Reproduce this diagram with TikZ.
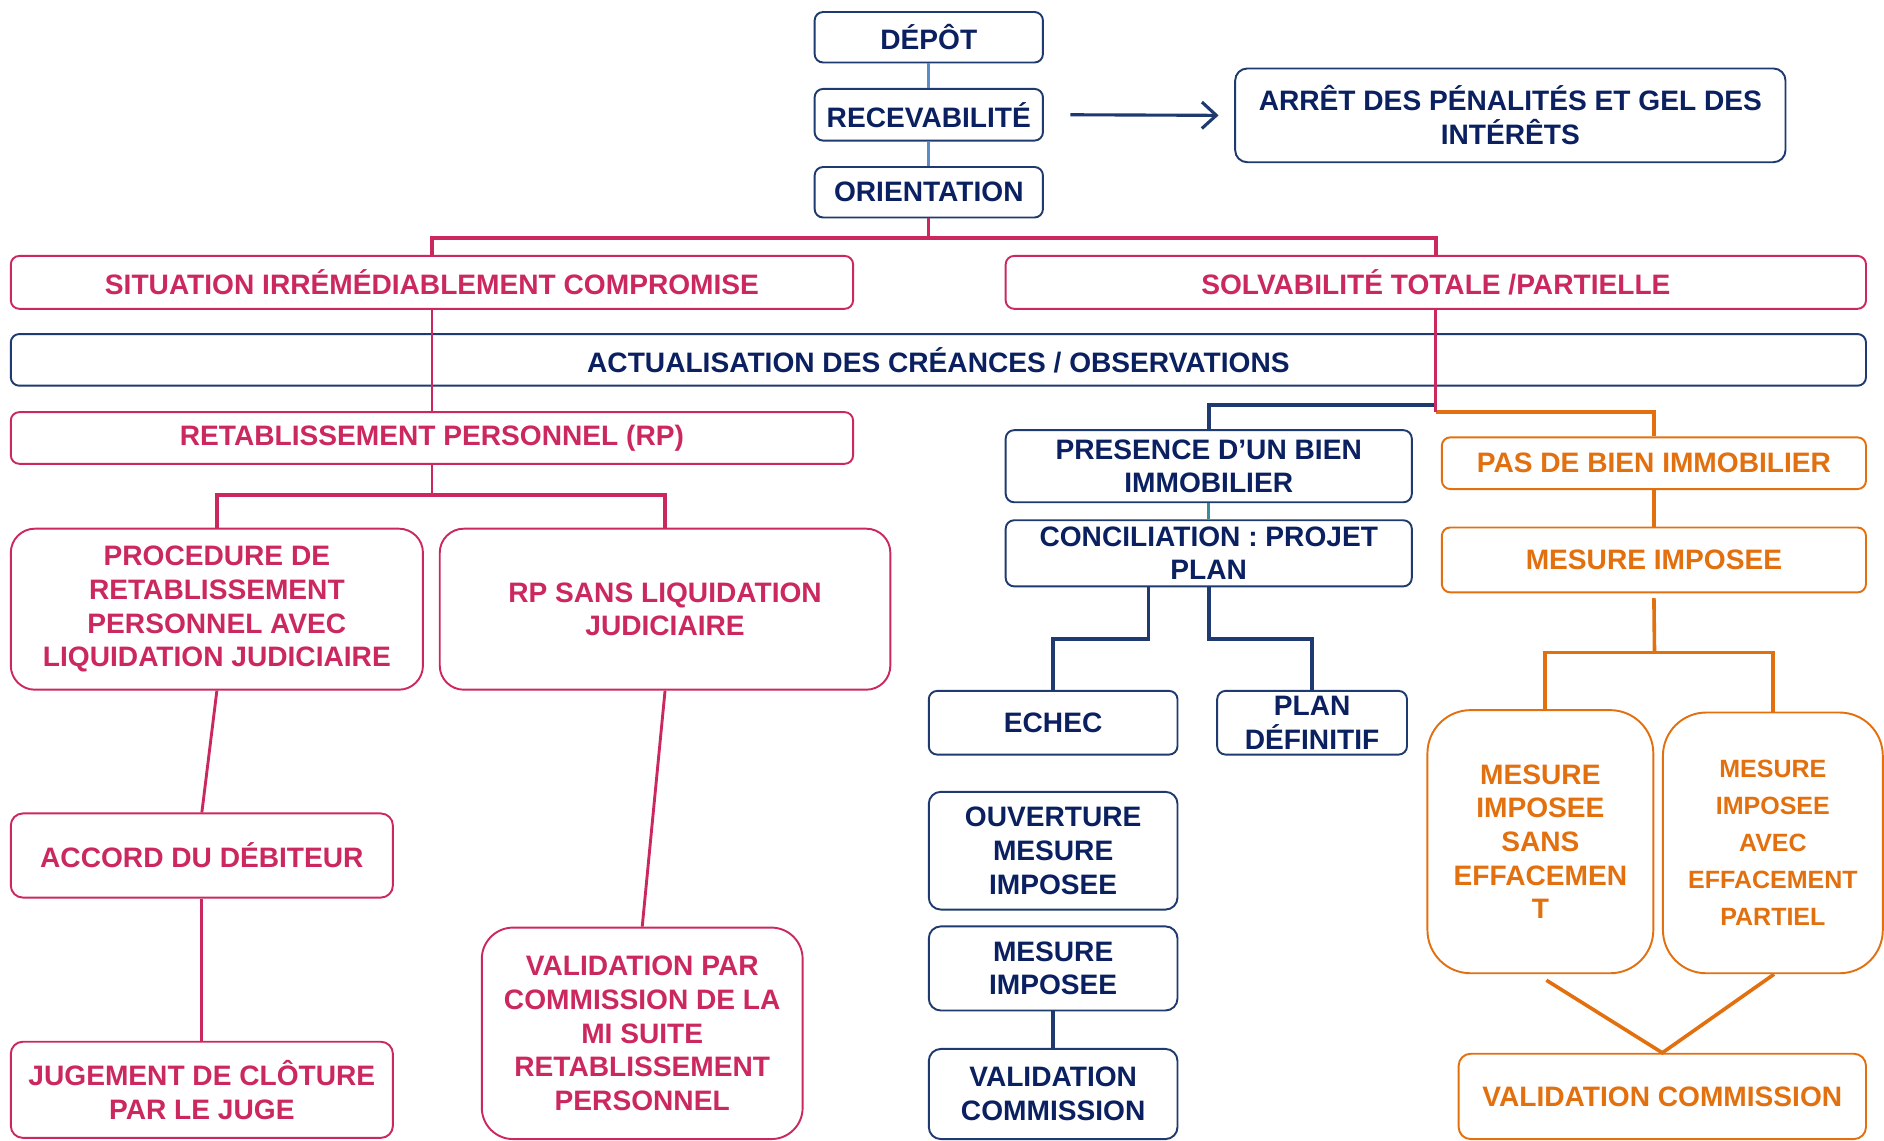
\documentclass[tikz,border=0pt]{standalone}
\usepackage{fontspec}
\setmainfont{Liberation Sans}
\usetikzlibrary{arrows.meta,calc}
\definecolor{navy}{HTML}{1F3A6E}
\definecolor{navytext}{HTML}{0A2060}
\definecolor{crim}{HTML}{CC2860}
\definecolor{orng}{HTML}{E2700F}
\definecolor{lblue}{HTML}{5A8CC8}
\definecolor{tealc}{HTML}{3A8C9C}
% \mkbox{style}{name}{x1}{y1}{x2}{y2}{text}
\newcommand\mkbox[7]{%
  \node[#1, minimum width={(#5-#3)*0.5pt}, minimum height={(#6-#4)*0.5pt}]
    (#2) at ({(#3+#5)/2},{(#4+#6)/2}) {#7};}
\begin{document}
\begin{tikzpicture}[x=0.5pt,y=-0.5pt,
  base/.style={draw, fill=white, line width=0.8pt, inner sep=0pt, align=center,
    font=\bfseries\fontsize{11.7}{14}\selectfont},
  nbox/.style={base, draw=navy, text=navytext},
  cbox/.style={base, draw=crim, text=crim},
  obox/.style={base, draw=orng, text=orng},
  ra/.style={rounded corners=3.5pt},
  rb/.style={rounded corners=5pt},
  rc/.style={rounded corners=10pt},
  rd/.style={rounded corners=13pt},
  re/.style={rounded corners=18pt},
  lbl/.style={draw=lblue, line width=1.1pt},
  cl/.style={draw=crim, line width=1.2pt},
  nl/.style={draw=navy, line width=1.5pt},
  ol/.style={draw=orng, line width=1.5pt},
  tl/.style={draw=tealc, line width=1.1pt},
  arr/.style={draw=navy, line width=1.3pt, -{Straight Barb[length=6pt,width=11pt,line width=1.3pt]}}
]
\useasboundingbox (0,0) rectangle (1568,949.6);
\clip (0,0) rectangle (1568,949.6);

% top column
\mkbox{nbox, ra}{depot}{678}{10}{868}{52}{DÉPÔT}
\mkbox{nbox, ra}{recev}{678}{74}{868}{117}{RECEVABILITÉ}
\mkbox{nbox, ra}{orient}{678}{139}{868}{181}{ORIENTATION}
\mkbox{nbox, rb}{arret}{1028}{57}{1486}{135}{ARRÊT DES PÉNALITÉS ET GEL DES\\INTÉRÊTS}

% second level
\mkbox{cbox, ra}{sit}{9}{213}{710}{257}{SITUATION IRRÉMÉDIABLEMENT COMPROMISE}
\mkbox{cbox, ra}{solv}{837}{213}{1553}{257}{SOLVABILITÉ TOTALE /PARTIELLE}
\mkbox{nbox, ra}{actu}{9}{278}{1553}{321}{ACTUALISATION DES CRÉANCES / OBSERVATIONS}

% left branch
\mkbox{cbox, ra}{rp}{9}{343}{710}{386}{RETABLISSEMENT PERSONNEL (RP)}
\mkbox{cbox, rc}{proc}{9}{440}{352}{574}{PROCEDURE DE\\RETABLISSEMENT\\PERSONNEL AVEC\\LIQUIDATION JUDICIAIRE}
\mkbox{cbox, rc}{rpsans}{366}{440}{741}{574}{RP SANS LIQUIDATION\\JUDICIAIRE}
\mkbox{cbox, rb}{accord}{9}{677}{327}{747}{ACCORD DU DÉBITEUR}
\mkbox{cbox, rb}{jug}{9}{867}{327}{947}{JUGEMENT DE CLÔTURE\\PAR LE JUGE}
\mkbox{cbox, rd}{valpar}{401}{772}{668}{948}{VALIDATION PAR\\COMMISSION DE LA\\MI SUITE\\RETABLISSEMENT\\PERSONNEL}

% middle branch
\mkbox{nbox, ra}{pres}{837}{358}{1175}{418}{PRESENCE D’UN BIEN\\IMMOBILIER}
\mkbox{nbox, ra}{concil}{837}{433}{1175}{488}{CONCILIATION : PROJET\\PLAN}
\mkbox{nbox, ra}{echec}{773}{575}{980}{628}{ECHEC}
\mkbox{nbox, ra}{plan}{1013}{575}{1171}{628}{PLAN\\DÉFINITIF}
\mkbox{nbox, rb}{ouv}{773}{659}{980}{757}{OUVERTURE\\MESURE\\IMPOSEE}
\mkbox{nbox, rb}{mi}{773}{771}{980}{841}{MESURE\\IMPOSEE}
\mkbox{nbox, rb}{valc}{773}{873}{980}{948}{VALIDATION\\COMMISSION}

% right branch
\mkbox{obox, ra}{pas}{1200}{364}{1553}{407}{PAS DE BIEN IMMOBILIER}
\mkbox{obox, ra}{mio}{1200}{439}{1553}{493}{MESURE IMPOSEE}
\mkbox{obox, re}{sans}{1188}{591}{1376}{810}{MESURE\\IMPOSEE\\SANS\\EFFACEMEN\\T}
\mkbox{obox, re, font=\bfseries\fontsize{10.4}{15.4}\selectfont}{avec}{1384}{593}{1567}{810}{MESURE\\IMPOSEE\\AVEC\\EFFACEMENT\\PARTIEL}
\mkbox{obox, rb}{valo}{1214}{877}{1553}{948}{VALIDATION COMMISSION}

% connectors top
\draw[lbl] (depot) -- (recev);
\draw[lbl] (recev) -- (orient);
\draw[arr] ($(recev.east)+(22,0)$) -- ($(arret.west)+(-13,0)$);
\coordinate (cj) at (773,198);
\draw[cl] (orient.south) -- (cj);
\draw[cl, line width=1.4pt] (sit.north) |- (cj) -| (solv.north);

% left connectors
\draw[cl] (sit) -- (rp);
\coordinate (rj) at (359.5,412);
\draw[cl] (rp.south) -- (rj);
\draw[cl, line width=1.4pt] (proc.north) |- (rj) -| (rpsans.north);
\draw[cl] (proc.south) -- (accord.north);
\draw[cl] (accord) -- (jug);
\draw[cl] (rpsans.south) -- (valpar.north);

% middle / right split
\coordinate (nj) at (1195,337);
\coordinate (oj) at (1195,343);
\draw[nl] (pres.north) |- (nj);
\draw[ol] (pas.north) |- (oj);
\draw[cl] (solv.south) -- (oj);

% middle connectors
\draw[tl] (pres) -- (concil);
\draw[nl] ($(concil.south)+(-50,0)$) -- ($(concil.south)+(-50,43)$) -| (echec.north);
\draw[nl] (concil.south) -- ++(0,43) -| (plan.north);
\draw[nl] (mi) -- (valc);

% right connectors
\draw[ol] (pas) -- (mio);
\coordinate (obj) at (1377,543);
\draw[ol] ($(mio.south)+(0,4)$) -- (obj);
\draw[ol] ($(sans.north)+(4,0)$) |- (obj) -| (avec.north);
\draw[ol] ($(sans.south)+(5,5)$) -- (valo.north) -- ($(avec.south)+(1,0)$);
\end{tikzpicture}
\end{document}
